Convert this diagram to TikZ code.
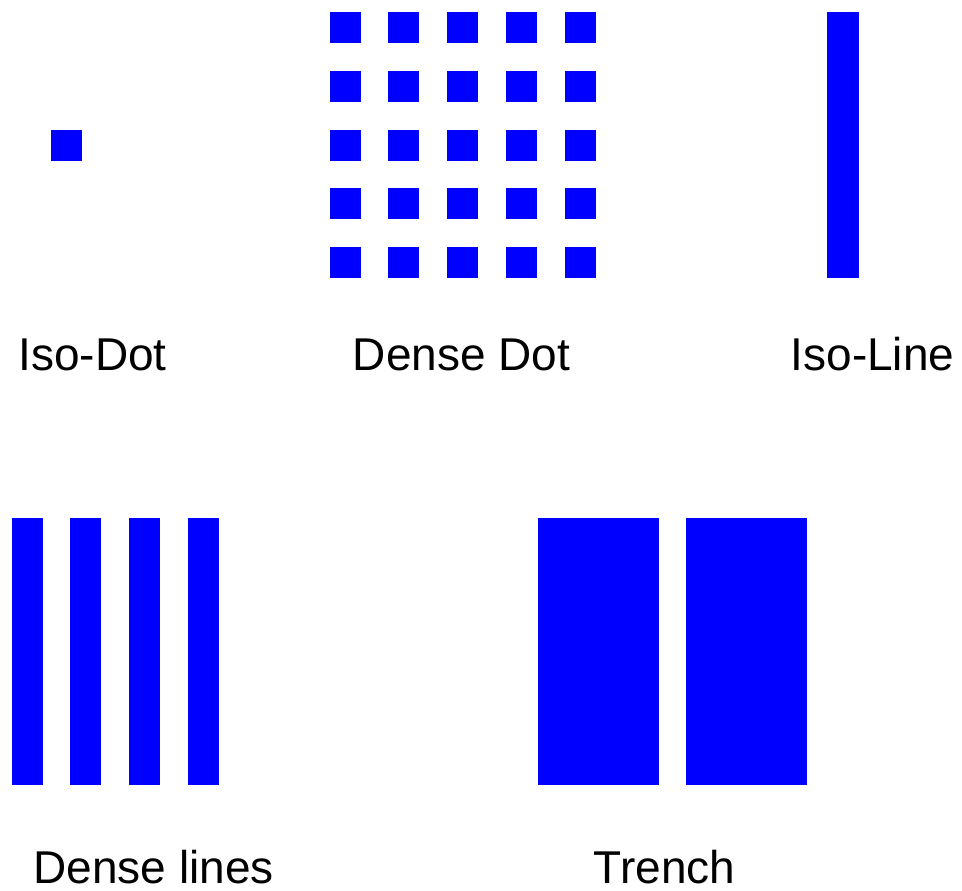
\documentclass[tikz,border=0pt]{standalone}
\usepackage{fontspec}
\setmainfont{Liberation Sans}
\begin{document}
\begin{tikzpicture}[
  x=1pt, y=-1pt,
  every node/.style={inner sep=0pt, outer sep=0pt},
  pad/.style={fill=blue, minimum width=31pt, minimum height=31pt},
  bar/.style={fill=blue, minimum width=31pt, minimum height=267pt},
  wide/.style={fill=blue, minimum width=121pt, minimum height=267pt},
  tag/.style={anchor=base, font=\fontsize{46}{50}\selectfont}
]
\useasboundingbox (0,0) rectangle (962,891);

% top row
\node[pad] (isodot) at (66,145) {};
\foreach \i in {0,...,4}
  \foreach \j in {0,...,4}
    \node[pad] (dd-\i-\j) at (345+58.8*\i, 28+58.6*\j) {};
\node[bar, minimum width=32pt, minimum height=266pt] (isoline) at (843,145) {};

\node[tag] (t1) at (92.5,370) {Iso-Dot};
\node[tag] (t2) at (461.5,370) {Dense Dot};
\node[tag] (t3) at (872.5,370) {Iso-Line};

% bottom row
\foreach \i in {0,...,3}
  \node[bar] (dl-\i) at (27+58.7*\i, 651.5) {};
\node[wide] (tr-a) at (598.5,651.5) {};
\node[wide] (tr-b) at (746.5,651.5) {};

\node[tag] (t4) at (153.5,883) {Dense lines};
\node[tag] (t5) at (664.5,883) {Trench};
\end{tikzpicture}
\end{document}
